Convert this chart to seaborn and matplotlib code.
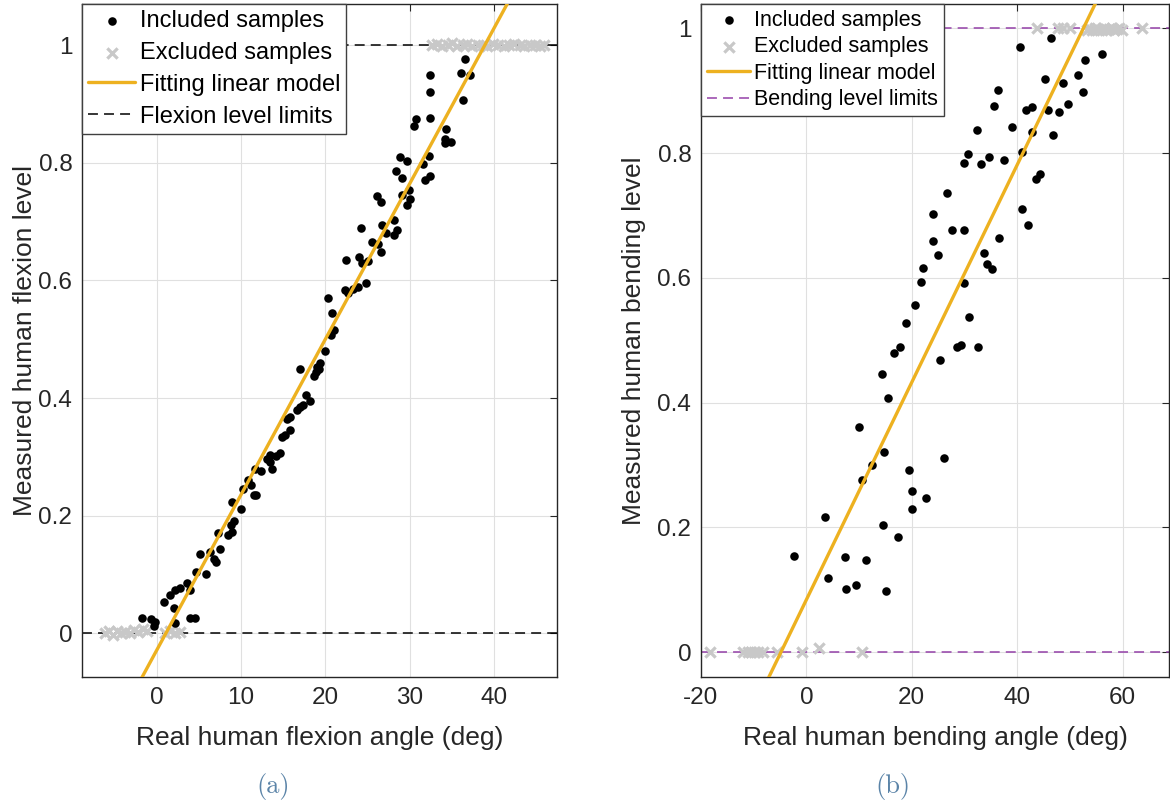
import numpy as np
import matplotlib
matplotlib.use('Agg')
import matplotlib.pyplot as plt
import seaborn as sns
from matplotlib.ticker import FixedLocator, FuncFormatter

# ---------------- data: panel (a) flexion ----------------
flex_incl_angle = [-1.78, -0.71, -0.20, -0.40, 2.17, 2.05, 0.87, 1.58, 2.17, 2.77, 3.56, 3.95, 3.95, 4.47,
                   4.67, 5.14, 5.85, 6.33, 6.72, 7.00, 7.52, 7.24, 8.43, 8.90, 8.80, 9.15, 8.90, 10.0,
                   10.2, 10.8, 11.2, 11.47, 11.8, 11.6, 12.4, 13.06, 13.37, 13.46, 13.66, 14.17, 14.56,
                   14.85, 15.24, 15.83, 15.5, 15.83, 16.63, 17.0, 17.4, 17.7, 18.2, 18.6, 18.9, 17.0,
                   19.0, 19.3, 19.2, 20.0, 20.7, 20.97, 20.78, 20.3, 22.36, 22.64, 23.23, 23.87, 24.82,
                   22.45, 23.94, 24.34, 25.06, 25.5, 26.25, 26.6, 24.26, 26.7, 27.23, 28.1, 28.5, 28.18,
                   26.13, 26.6, 29.1, 29.88, 30.0, 29.7, 28.42, 29.1, 28.8, 29.7, 31.8, 32.4, 31.6, 32.26,
                   30.47, 30.76, 32.4, 32.46, 32.46, 34.36, 34.24, 34.24, 34.9, 36.34, 36.14, 37.13, 36.53]
flex_incl_level = [0.0255, 0.0243, 0.0197, 0.0124, 0.017, 0.0425, 0.0527, 0.065, 0.0736, 0.0765, 0.086,
                   0.0736, 0.0265, 0.0265, 0.1047, 0.1347, 0.1008, 0.1387, 0.1274, 0.1217, 0.1433, 0.1716,
                   0.167, 0.173, 0.184, 0.191, 0.2236, 0.2124, 0.245, 0.2605, 0.252, 0.235, 0.236, 0.279,
                   0.276, 0.297, 0.2916, 0.303, 0.2804, 0.301, 0.307, 0.334, 0.337, 0.3455, 0.3653, 0.368,
                   0.3794, 0.385, 0.388, 0.405, 0.395, 0.437, 0.445, 0.450, 0.453, 0.459, 0.450, 0.480,
                   0.507, 0.5154, 0.5448, 0.571, 0.583, 0.5788, 0.586, 0.589, 0.5965, 0.634, 0.640, 0.629,
                   0.6326, 0.6654, 0.6615, 0.6484, 0.690, 0.695, 0.6807, 0.7023, 0.6865, 0.6768, 0.743,
                   0.7334, 0.7448, 0.7533, 0.739, 0.729, 0.786, 0.775, 0.81, 0.8026, 0.770, 0.777, 0.7986,
                   0.811, 0.8626, 0.874, 0.8756, 0.920, 0.950, 0.858, 0.841, 0.8337, 0.8353, 0.906, 0.9526,
                   0.9487, 0.976]
flex_excl_angle = [-6.2, -5.7, -5.2, -4.7, -4.3, -3.8, -3.2, -2.7, -2.2, -1.7, -1.2, 1.0, 1.5, 2.1, 2.7,
                   32.7, 33.2, 33.8, 34.5, 35.0, 35.6, 36.3, 36.8, 37.4, 38.1, 38.7, 39.2, 39.9, 40.5,
                   41.2, 41.8, 42.4, 43.1, 43.6, 44.3, 44.9, 45.5, 45.9]
flex_excl_level = [0.0, 0.004, -0.002, 0.005, 0.0, 0.003, 0.0, 0.006, 0.002, 0.008, 0.004, 0.0, 0.005,
                   0.0, 0.003,
                   1.0, 1.002, 0.998, 1.0, 1.003, 0.999, 1.0, 1.002, 0.998, 1.0, 1.001, 0.999, 1.002,
                   1.0, 0.998, 1.0, 1.002, 1.0, 0.999, 1.001, 1.0, 0.998, 1.0]
flex_fit = [0.0264, -0.0277]          # slope, intercept
flex_limits = [0, 1]

# ---------------- data: panel (b) bending ----------------
bend_incl_angle = [-2.31, 3.51, 4.14, 7.31, 7.44, 9.39, 11.23, 10.02, 10.6, 12.37, 14.27, 14.76, 14.58,
                   15.09, 15.52, 16.66, 17.74, 17.3, 19.45, 20.0, 19.96, 22.68, 25.33, 26.15, 28.5, 29.26,
                   32.6, 18.82, 20.59, 21.73, 22.17, 23.94, 24.9, 24.06, 26.72, 27.67, 29.89, 29.89, 30.9,
                   33.68, 34.19, 35.26, 36.59, 29.89, 30.7, 33.06, 34.69, 37.48, 32.3, 35.58, 36.28, 39.05,
                   40.83, 40.51, 40.95, 42.09, 42.73, 41.65, 42.85, 43.55, 44.31, 45.26, 45.88, 46.34,
                   46.83, 47.97, 48.61, 49.68, 51.46, 52.52, 52.85, 56.0]
bend_incl_level = [0.1532, 0.2162, 0.1185, 0.1521, 0.1004, 0.1068, 0.148, 0.3603, 0.276, 0.300, 0.4458,
                   0.3214, 0.2029, 0.0977, 0.4067, 0.4788, 0.4884, 0.1842, 0.2926, 0.259, 0.229, 0.2466,
                   0.4687, 0.3107, 0.4884, 0.4922, 0.4884, 0.5268, 0.5563, 0.5925, 0.6165, 0.6592, 0.6368,
                   0.702, 0.7366, 0.6769, 0.6769, 0.5909, 0.5376, 0.6405, 0.622, 0.614, 0.6636, 0.7846,
                   0.798, 0.783, 0.7938, 0.789, 0.8365, 0.875, 0.9005, 0.8418, 0.8018, 0.9704, 0.711,
                   0.6844, 0.8338, 0.8685, 0.8738, 0.759, 0.766, 0.919, 0.8685, 0.9838, 0.829, 0.8658,
                   0.9128, 0.879, 0.925, 0.8983, 0.9486, 0.9592]
bend_excl_angle = [-18.3, -12.0, -11.1, -10.5, -9.9, -9.1, -8.2, -5.6, -0.9, 2.3, 10.6,
                   43.7, 47.8, 48.7, 50.0, 53.2, 53.7, 54.1, 54.8, 55.1, 55.4, 56.0, 56.5, 57.0, 57.5,
                   57.9, 58.4, 58.9, 59.3, 59.8, 63.6]
bend_excl_level = [0.0, 0.0, 0.0, 0.0, 0.0, 0.0, 0.0, 0.0, 0.0, 0.006, 0.0,
                   1.0, 1.0, 1.0, 1.0, 0.998, 1.0, 0.998, 1.0, 0.997, 0.999, 0.998, 1.0, 0.998, 0.999,
                   1.0, 0.998, 0.999, 1.0, 0.998, 1.0]
bend_fit = [0.01743, 0.0840]          # slope, intercept
bend_limits = [0, 1]

level_ticks = [0, 0.2, 0.4, 0.6, 0.8, 1]
flex_xticks = [0, 10, 20, 30, 40]
bend_xticks = [-20, 0, 20, 40, 60]

# ---------------- style ----------------
sns.set_style('white')
plt.rcParams['font.family'] = ['Liberation Sans', 'DejaVu Sans']
plt.rcParams['axes.unicode_minus'] = False

TXT = '#262626'
fig = plt.figure(figsize=(11.7, 8.05), dpi=100)
axL = fig.add_axes([82 / 1170, 1 - 677 / 805, 475 / 1170, 673 / 805])
axR = fig.add_axes([701 / 1170, 1 - 677 / 805, 468 / 1170, 673 / 805])


def panel(ax, ix, iy, ex, ey, fit, limits, lim_color, lim_label, xlim, ylim, xticks,
          xlabel, ylabel, leg_fs, ylab_x, bpad, lspace):
    lim_line = None
    for v in limits:
        lim_line = ax.axhline(v, color=lim_color, lw=1.1, dashes=(6.5, 4), zorder=2)
    sns.scatterplot(x=ex, y=ey, ax=ax, marker='x', color='#c8c8c8', s=55, linewidth=2.3,
                    zorder=3, legend=False)
    sns.scatterplot(x=ix, y=iy, ax=ax, color='black', s=38, linewidth=0, zorder=4, legend=False)
    xs = np.array(xlim)
    sns.lineplot(x=xs, y=fit[0] * xs + fit[1], ax=ax, color='#EDB120', lw=2.4, zorder=5,
                 legend=False)
    fit_line = ax.lines[-1]
    excl_coll, incl_coll = ax.collections[0], ax.collections[1]

    ax.set_xlim(*xlim)
    ax.set_ylim(*ylim)
    ax.xaxis.set_major_locator(FixedLocator(xticks))
    ax.yaxis.set_major_locator(FixedLocator(level_ticks))
    ax.yaxis.set_major_formatter(FuncFormatter(lambda v, p: '%g' % v))
    ax.xaxis.set_major_formatter(FuncFormatter(lambda v, p: '%g' % v))
    ax.grid(True, color='#e0e0e0', lw=0.8)
    ax.set_axisbelow(True)
    for sp in ax.spines.values():
        sp.set_color(TXT)
        sp.set_linewidth(1.0)
    ax.tick_params(direction='in', length=5, width=0.8, top=True, right=True, labelsize=17.5,
                   color=TXT, labelcolor=TXT, pad=7)
    ax.set_xlabel(xlabel, fontsize=19, color=TXT)
    ax.set_ylabel(ylabel, fontsize=19, color=TXT)
    ax.xaxis.label.set_va('center')
    ax.xaxis.set_label_coords(0.5, (677 - 738) / 673)
    ax.yaxis.label.set_va('center')
    ax.yaxis.set_label_coords(ylab_x, 0.5)

    leg = ax.legend([incl_coll, excl_coll, fit_line, lim_line],
                    ['Included samples', 'Excluded samples', 'Fitting linear model', lim_label],
                    loc='upper left', bbox_to_anchor=(0, 1), borderaxespad=0, fancybox=False,
                    framealpha=1, edgecolor='#404040', fontsize=leg_fs, handlelength=2.0,
                    handletextpad=0.2, borderpad=bpad, labelspacing=lspace, scatterpoints=1)
    leg.get_frame().set_linewidth(1.0)
    for t in leg.get_texts():
        t.set_color('black')
    leg.set_zorder(10)


panel(axL, flex_incl_angle, flex_incl_level, flex_excl_angle, flex_excl_level, flex_fit,
      flex_limits, 'black', 'Flexion level limits', (-8.9, 47.5), (-0.074, 1.07), flex_xticks,
      'Real human flexion angle (deg)', 'Measured human flexion level', 17, (25 - 82) / 475,
      0.25, 0.42)
panel(axR, bend_incl_angle, bend_incl_level, bend_excl_angle, bend_excl_level, bend_fit,
      bend_limits, '#9440A8', 'Bending level limits', (-20, 68.8), (-0.040, 1.039), bend_xticks,
      'Real human bending angle (deg)', 'Measured human bending level', 15.5, (634 - 701) / 468,
      0.28, 0.25)

fig.text(273 / 1170, 1 - 786 / 805, '(a)', ha='center', va='center', fontsize=19,
         color='#5b84a8', family='cmr10')
fig.text(893 / 1170, 1 - 786 / 805, '(b)', ha='center', va='center', fontsize=19,
         color='#5b84a8', family='cmr10')

fig.savefig('out.png', dpi=100)
